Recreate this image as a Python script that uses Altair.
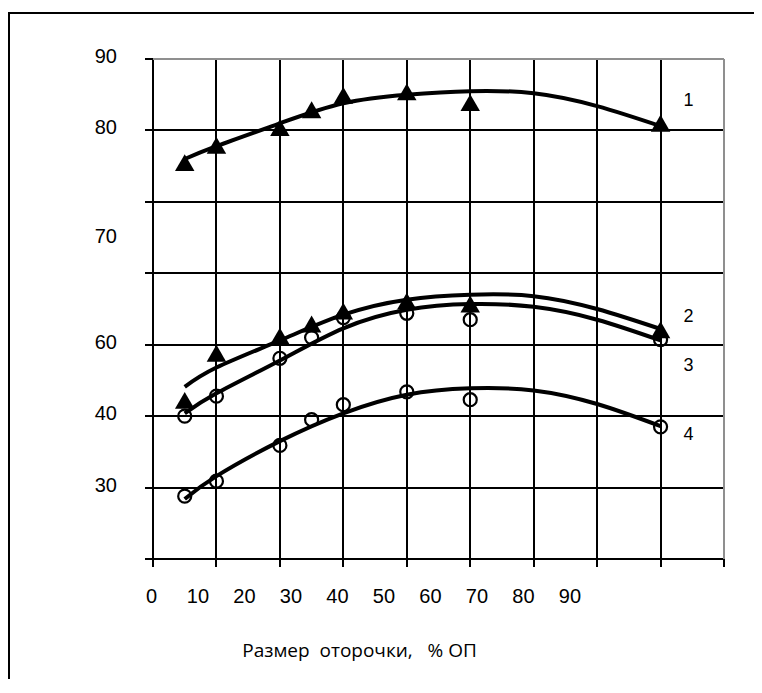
import altair as alt
import pandas as pd

# ---- data ----
x_pts = [5, 10, 20, 25, 30, 40, 50, 80]
tri1 = [75.5, 77.9, 80.4, 82.9, 84.9, 85.4, 83.9, 81.0]
tri2 = [42.2, 48.8, 51.2, 52.9, 54.7, 56.1, 55.7, 52.1]
circ3 = [40.0, 42.8, 48.1, 51.0, 53.8, 54.4, 53.5, 50.7]
circ4 = [28.8, 30.9, 35.9, 39.5, 41.6, 43.4, 42.3, 38.5]

x_fit = [5, 10, 20, 30, 40, 50, 60, 70, 80]
fit1 = [76.0, 77.8, 81.0, 83.8, 85.0, 85.5, 85.2, 83.4, 80.6]
fit2 = [44.1, 46.8, 50.6, 54.2, 56.3, 57.0, 56.8, 55.0, 52.2]
fit3 = [40.4, 43.2, 47.8, 52.3, 54.9, 55.7, 55.3, 53.5, 50.6]
fit4 = [28.4, 31.6, 36.5, 40.4, 43.0, 43.9, 43.6, 41.7, 38.6]

curve_names = ["1", "2", "3", "4"]
curve_label_x = [84.4, 84.4, 84.4, 84.4]
curve_label_y = [84.1, 53.9, 47.0, 37.3]

grid_x = [0, 10, 20, 30, 40, 50, 60, 70, 80, 90]
grid_y = [20, 30, 40, 50, 60, 70, 80, 90]
y_label_values = [30, 40, 50, 80, 90]
y_label_texts = ["30", "40", "60", "80", "90"]
y_extra_label = ["70"]
y_extra_pos = [65.1]

x_tick_labels = [0, 10, 20, 30, 40, 50, 60, 70, 80, 90]
x_label_domain = [0, 122.8]
x_title = "Размер\u00a0\u00a0оторочки,\u00a0\u00a0\u00a0%\u00a0ОП"

# ---- tables ----
fit_df = pd.DataFrame({
    "x": x_fit * 4,
    "y": fit1 + fit2 + fit3 + fit4,
    "s": sum([[n] * len(x_fit) for n in curve_names], []),
})
tri_df = pd.DataFrame({"x": x_pts * 2, "y": tri1 + tri2,
                       "s": ["1"] * len(x_pts) + ["2"] * len(x_pts)})
circ_df = pd.DataFrame({"x": x_pts * 2, "y": circ3 + circ4,
                        "s": ["3"] * len(x_pts) + ["4"] * len(x_pts)})
lab_df = pd.DataFrame({"x": curve_label_x, "y": curve_label_y, "t": curve_names})
extra_df = pd.DataFrame({"y": y_extra_pos, "t": y_extra_label})
xl_df = pd.DataFrame({"lab": x_tick_labels})
border_x_df = pd.DataFrame({"x": [max(grid_x)]})
border_y_df = pd.DataFrame({"y": [max(grid_y)]})

FONT = "Liberation Sans"
GREY = "#8f8f8f"

xs = alt.Scale(domain=[min(grid_x), max(grid_x)], nice=False, zero=False)
ys = alt.Scale(domain=[min(grid_y), max(grid_y)], nice=False, zero=False)

label_expr = " : ".join(
    f"datum.value == {v} ? '{t}'" for v, t in zip(y_label_values, y_label_texts)
) + " : ''"

x_axis = alt.Axis(
    orient="bottom", values=grid_x, labels=False, title=None, translate=0,
    grid=True, gridColor="black", gridWidth=2, gridOpacity=1,
    ticks=True, tickSize=8, tickWidth=2, tickColor="black",
    domain=True, domainColor="black", domainWidth=2,
)
y_axis = alt.Axis(
    orient="left", values=grid_y, labelExpr=label_expr, title=None, translate=0,
    grid=True, gridColor="black", gridWidth=2, gridOpacity=1,
    ticks=True, tickSize=8, tickWidth=2, tickColor="black",
    domain=True, domainColor="black", domainWidth=2,
    labelFont=FONT, labelFontSize=20, labelColor="black", labelPadding=28,
    labelOffset=-2, labelOverlap=False, labelFlush=False,
)


def Y(field):
    return alt.Y(field, scale=ys, axis=y_axis)


frame = alt.Chart(alt.Data(values=[{"f": 1}])).mark_rect(
    fillOpacity=0, stroke="black", strokeWidth=2
).encode(
    x=alt.value(-144), x2=alt.value(900), y=alt.value(-46), y2=alt.value(900)
)

lines = alt.Chart(fit_df).mark_line(
    color="black", strokeWidth=4, interpolate="natural"
).encode(
    x=alt.X("x:Q", scale=xs, axis=x_axis),
    y=Y("y:Q"),
    detail="s:N",
)

border_top = alt.Chart(border_y_df).mark_rule(color=GREY, strokeWidth=2).encode(
    y=Y("y:Q"),
)
border_right = alt.Chart(border_x_df).mark_rule(color=GREY, strokeWidth=2).encode(
    x=alt.X("x:Q", scale=xs, axis=None),
)

tris = alt.Chart(tri_df).mark_point(
    shape="triangle-up", filled=True, size=380, color="black", opacity=1
).encode(
    x=alt.X("x:Q", scale=xs, axis=None),
    y=Y("y:Q"),
)

circs = alt.Chart(circ_df).mark_point(
    shape="circle", filled=False, size=170, strokeWidth=2.2, color="black", opacity=1
).encode(
    x=alt.X("x:Q", scale=xs, axis=None),
    y=Y("y:Q"),
)

curve_labels = alt.Chart(lab_df).mark_text(
    font=FONT, fontSize=18, color="black", align="center", baseline="middle"
).encode(
    x=alt.X("x:Q", scale=xs, axis=None),
    y=Y("y:Q"),
    text="t:N",
)

extra_label = alt.Chart(extra_df).mark_text(
    font=FONT, fontSize=20, color="black", align="right", baseline="middle"
).encode(
    x=alt.value(-36),
    y=Y("y:Q"),
    text="t:N",
)

label_layer = alt.Chart(xl_df).mark_point(opacity=0).encode(
    x=alt.X(
        "lab:Q",
        scale=alt.Scale(domain=x_label_domain, nice=False, zero=False),
        axis=alt.Axis(
            orient="bottom", values=x_tick_labels, ticks=False, tickSize=0,
            domain=False, grid=False, labelPadding=37, labelBaseline="middle",
            labelOffset=-2,
            labelFont=FONT, labelFontSize=20, labelColor="black",
            labelFlush=False, labelOverlap=False,
            title=x_title, titleX=206, titleY=91, titleBaseline="middle",
            titleFont="Open Sans", titleFontSize=19, titleFontWeight="normal",
            titleColor="black",
        ),
    )
)

chart = alt.layer(
    lines, border_top, border_right, frame, tris, circs, curve_labels, extra_label, label_layer
).resolve_scale(x="independent").properties(
    width=571, height=500,
    padding={"left": 145, "top": 51, "right": 30, "bottom": 120},
    autosize=alt.AutoSizeParams(type="none"),
    background="white",
).configure_view(stroke=None)

chart.save("out.html", embed_options={"renderer": "svg", "actions": False})
